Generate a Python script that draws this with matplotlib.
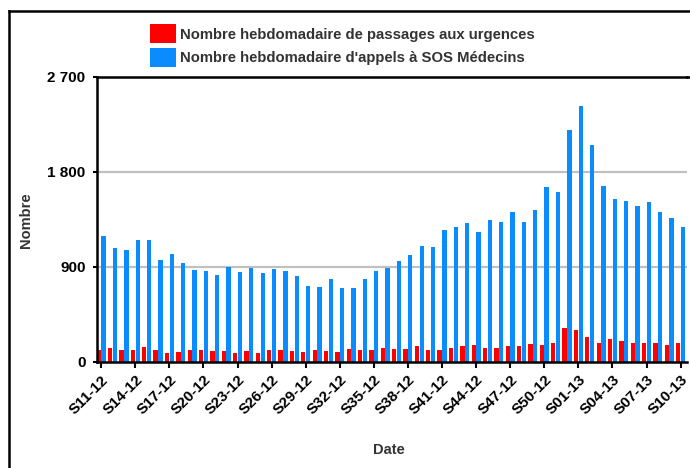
import numpy as np
from matplotlib import pyplot as plt
from matplotlib.lines import Line2D

# Weekly counts, S11-12 to S10-13
weeks = ([f"S{w:02d}-12" for w in range(11, 53)] +
         [f"S{w:02d}-13" for w in range(1, 11)])

urgences = [114, 129, 111, 111, 139, 111, 82, 92, 111, 107,
            98, 101, 79, 101, 82, 107, 107, 101, 92, 111,
            101, 92, 120, 111, 111, 129, 120, 120, 148, 111,
            111, 129, 148, 158, 129, 129, 148, 148, 167, 158,
            177, 319, 300, 234, 177, 212, 196, 177, 177, 177,
            158, 177]

sosMedecins = [1190, 1074, 1058, 1153, 1153, 963, 1020, 935, 868, 859,
               818, 897, 850, 887, 840, 878, 859, 808, 717, 704,
               780, 695, 695, 783, 859, 887, 951, 1011, 1096, 1083,
               1247, 1276, 1314, 1225, 1342, 1323, 1418, 1323, 1434, 1655,
               1607, 2192, 2419, 2053, 1661, 1541, 1522, 1475, 1513, 1418,
               1361, 1276]

legendLabels = ["Nombre hebdomadaire de passages aux urgences",
                "Nombre hebdomadaire d'appels à SOS Médecins"]

yTicks = [0, 900, 1800, 2700]
yTickLabels = ["0", "900", "1 800", "2 700"]

plt.rcParams['font.family'] = ['Liberation Sans', 'DejaVu Sans']

# Figure of 690 x 468 pixels, plot area placed in pixels
fig = plt.figure(figsize=(6.9, 4.68), dpi=100)
axLeft, axBottom, axWidth, axHeight = 96.7, 106.3, 590.7, 285
ax = fig.add_axes([axLeft / 690, axBottom / 468, axWidth / 690,
                   axHeight / 468])

x = np.arange(len(weeks))
barWidth = 0.38

# Draw bars, red on the left of each week, blue on the right
redBars = ax.bar(x - 0.21, urgences, barWidth, color="#ff0000", zorder=3)
blueBars = ax.bar(x + 0.21, sosMedecins, barWidth, color="#0a8cff",
                  zorder=3)

ax.set_xlim(-0.4, len(weeks) - 0.4)
ax.set_ylim(0, 2700)

# Gridlines at 900 and 1800 only
for value in yTicks[1:-1]:
    ax.axhline(value, color="#c0c0c0", lw=1.6, zorder=1)

ax.set_yticks(yTicks)
ax.set_yticklabels(yTickLabels, fontsize=11, fontweight="bold")
ax.set_xticks(x[::3])
ax.set_xticklabels(weeks[::3], rotation=45, ha="right",
                   rotation_mode="anchor", fontsize=11, fontweight="bold")
ax.tick_params(axis="x", length=4, width=1.5, pad=4)
ax.tick_params(axis="y", length=3, width=1.5, pad=5)

for side in ["left", "bottom", "top"]:
    ax.spines[side].set_linewidth(1.8)
    ax.spines[side].set_zorder(4)
ax.spines["right"].set_visible(False)

# Top line runs on to the right edge of the picture
topY = (axBottom + axHeight) / 468
fig.add_artist(Line2D([(axLeft + axWidth) / 690, 1], [topY, topY],
                      color="black", lw=1.8))

# Axis labels
ax.set_ylabel("Nombre", fontsize=10.5, fontweight="bold", color="#333333")
ax.yaxis.set_label_coords(-0.1075, 0.497)
ax.set_xlabel("Date", fontsize=10.5, fontweight="bold", color="#333333")
ax.xaxis.label.set_va("center")
ax.xaxis.set_label_coords(0.494, -0.31)

# Legend above the chart
fig.legend([redBars, blueBars], legendLabels, loc="upper left",
           bbox_to_anchor=(150 / 690, 1 - 24 / 468), frameon=False,
           borderpad=0, borderaxespad=0, handlelength=1.75,
           handleheight=1.63, handletextpad=0.28, labelspacing=0.28,
           prop={"size": 10.7, "weight": "bold"}, labelcolor="#333333")

# Outer frame of the chart (cut off at the right and bottom)
fig.add_artist(Line2D([8.7 / 690, 8.7 / 690], [0, 1 - 11 / 468],
                      color="black", lw=1.8))
fig.add_artist(Line2D([8.7 / 690, 1], [1 - 11 / 468, 1 - 11 / 468],
                      color="black", lw=1.8))

fig.savefig("out.png", dpi=100)
